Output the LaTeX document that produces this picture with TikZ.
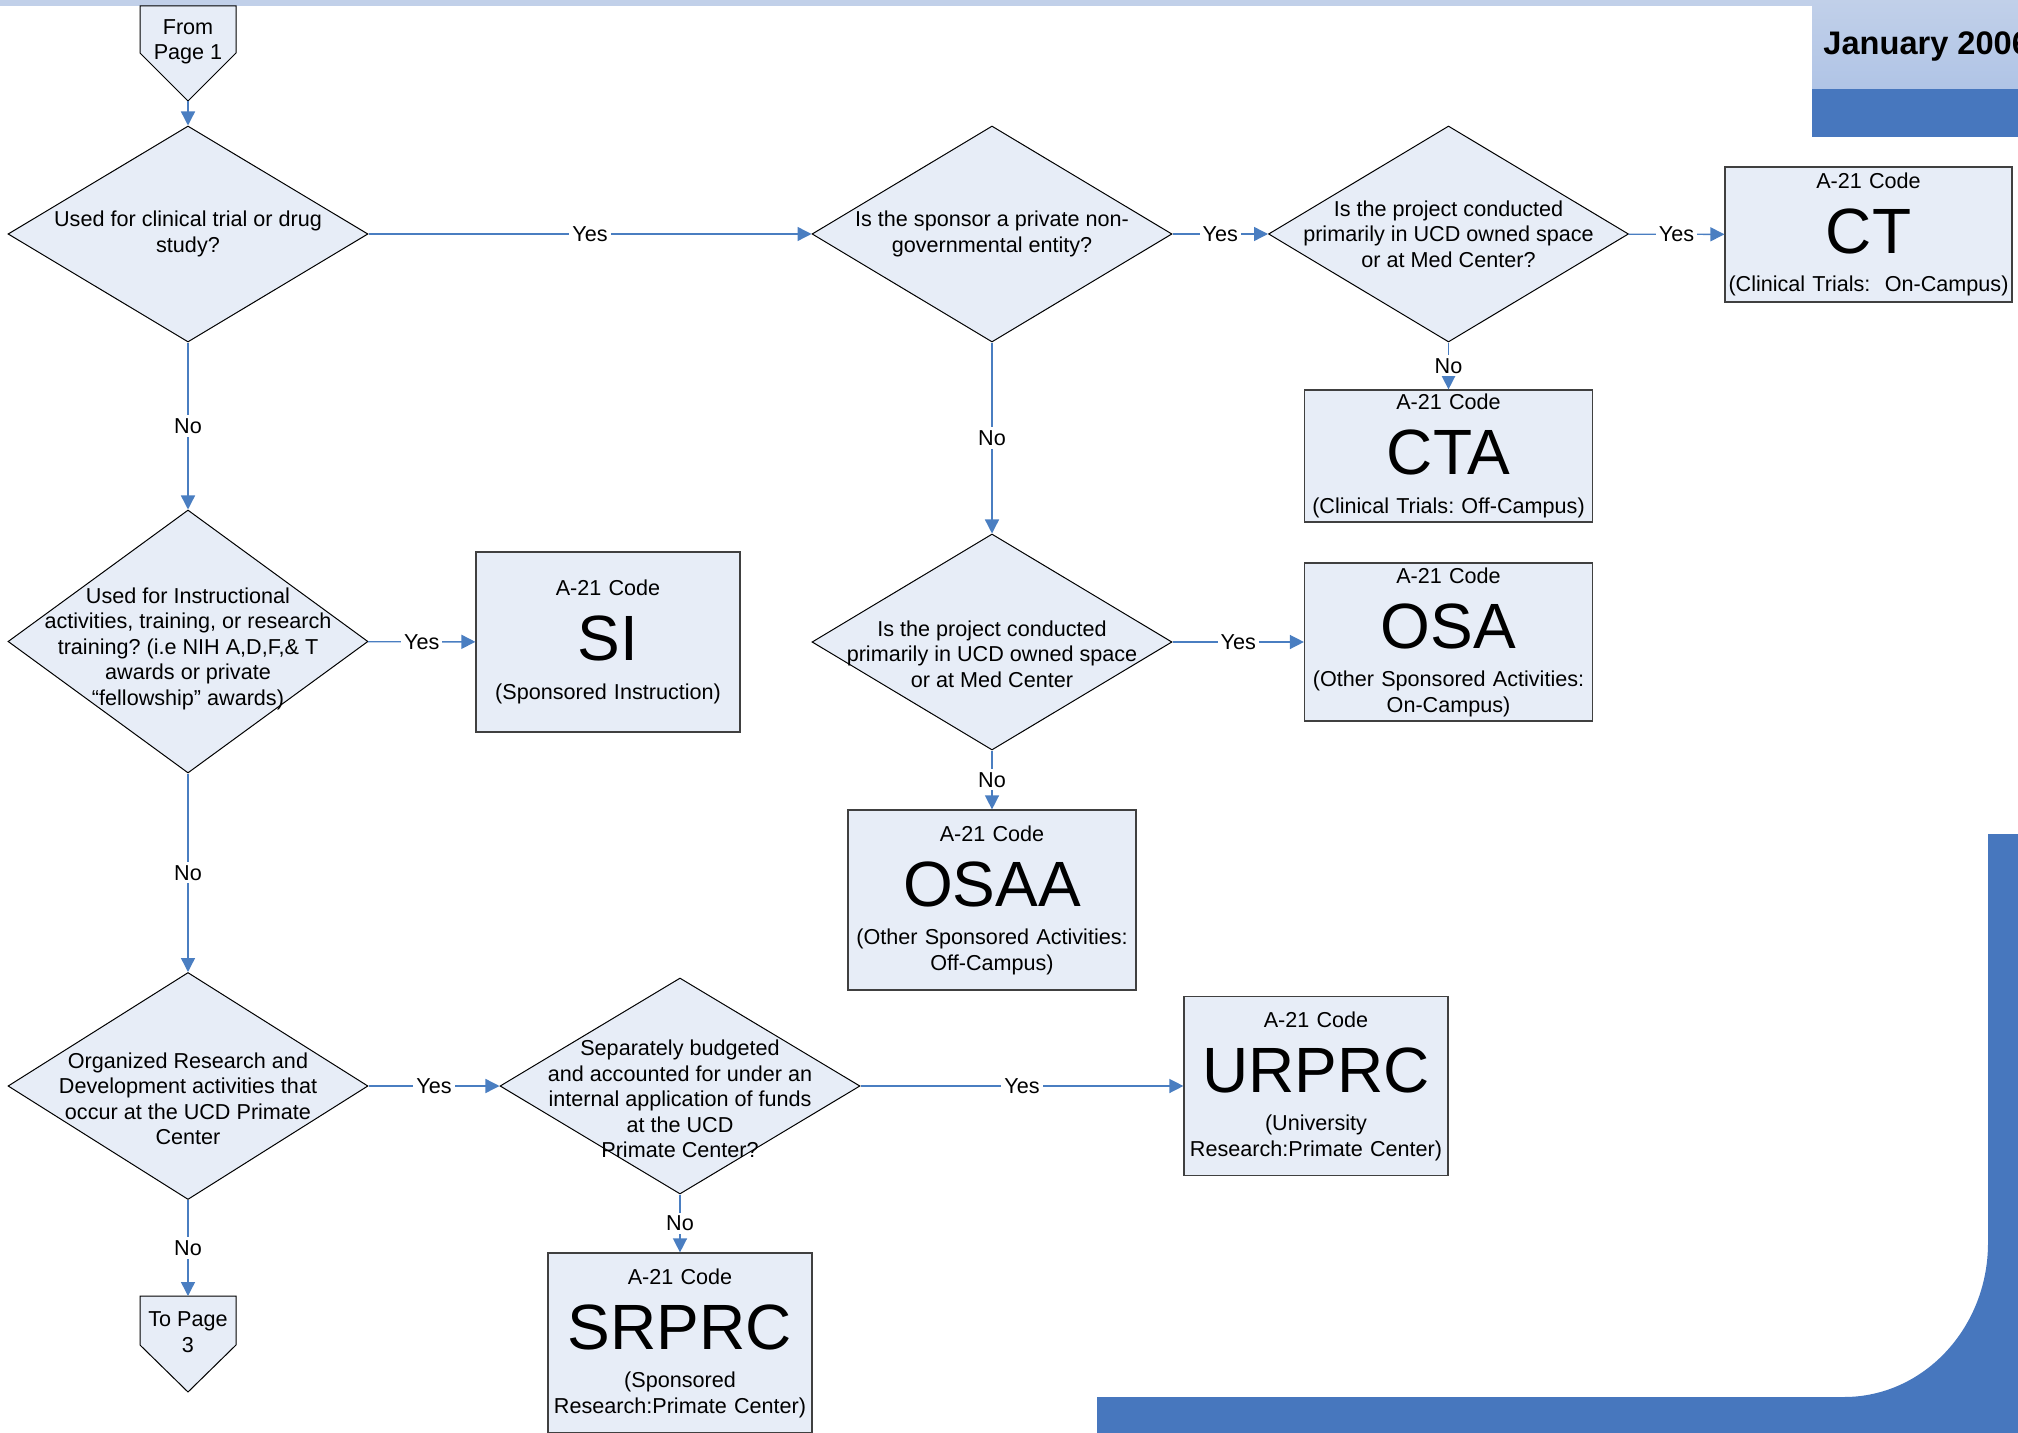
\documentclass[tikz,border=0pt]{standalone}
\usepackage{fontspec}
\setmainfont{Liberation Sans}
\usetikzlibrary{shapes.geometric}
\usetikzlibrary{arrows.meta}
\definecolor{shapefill}{RGB}{231,237,247}
\definecolor{flowblue}{RGB}{74,126,193}
\definecolor{bandlight}{RGB}{193,208,233}
\definecolor{bandmid}{RGB}{176,196,230}
\definecolor{banddark}{RGB}{71,119,190}
\definecolor{boxline}{RGB}{64,64,64}
\frenchspacing

\newcommand{\codelines}[2]{\parindent=0pt A-21 Code\par
  {\fontsize{32}{32.5}\selectfont #1\par}\vskip6.5pt #2}

\begin{document}
\begin{tikzpicture}[x=0.5pt,y=-0.5pt,
    font=\fontsize{10.8}{12.75}\selectfont,
    decision/.style={diamond,draw,fill=shapefill,line width=0.5pt,inner sep=0pt,
      minimum width=180pt,minimum height=108pt},
    qtext/.style={align=center,inner sep=0pt},
    codebox/.style={rectangle,draw=boxline,fill=shapefill,line width=0.6pt,
      inner sep=0pt,align=center},
    offpage/.style={draw,fill=shapefill,line width=0.5pt},
    flow/.style={flowblue,line width=0.7pt,-{Triangle[length=7pt,width=7pt]}},
    answer/.style={fill=white,text=black,inner sep=1.5pt}]
  \useasboundingbox (0,0) rectangle (2018,1433);
  \clip (0,0) rectangle (2018,1433);

  % page decoration
  \fill[bandlight] (0,0) rectangle (2018,6);
  \shade[top color=bandlight,bottom color=bandmid] (1812,0) rectangle (2018,89);
  \fill[banddark] (1812,89) rectangle (2018,137);
  \node[anchor=base west,inner sep=0pt,font=\fontsize{16.3}{19}\selectfont\bfseries]
    (date) at (1823,55) {January 2006};
  \fill[banddark] (1097,1397) -- (1844,1397)
    .. controls (1923.5,1397) and (1988,1328) .. (1988,1243)
    -- (1988,834) -- (2018,834) -- (2018,1433) -- (1097,1433) -- cycle;

  % off-page connectors
  \draw[offpage] (140,6) -- (236,6) -- (236,53) -- (188,101) -- (140,53) -- cycle;
  \node[qtext] (from) at (188,42) {From\\Page 1};
  \coordinate (fromtip) at (188,101);
  \draw[offpage] (140,1296) -- (236,1296) -- (236,1345) -- (188,1392) -- (140,1345) -- cycle;
  \node[qtext] (topage) at (188,1332) {To Page\\3};
  \coordinate (totop) at (188,1296);

  % questions
  \node[decision,label={[qtext]center:{Used for clinical trial or drug\\study?}}]
    (clin) at (188,234) {};
  \node[decision,label={[qtext]center:{Is the sponsor a private non-\\governmental entity?}}]
    (sponsor) at (992,234) {};
  \node[decision,label={[qtext]center:{Is the project conducted\\primarily in UCD owned space\\or at Med Center?}}]
    (ucdct) at (1448.5,234) {};
  \node[decision,minimum height=131.5pt,
    label={[qtext,yshift=-3.5pt]center:{Used for Instructional\\activities, training, or research\\training? (i.e NIH A,D,F,\& T\\awards or private\\“fellowship” awards)}}]
    (instr) at (188,641.5) {};
  \node[decision,label={[qtext,yshift=-6pt]center:{Is the project conducted\\primarily in UCD owned space\\or at Med Center}}]
    (ucdosa) at (992,642) {};
  \node[decision,minimum height=113.5pt,
    label={[qtext,yshift=-6.5pt]center:{Organized Research and\\Development activities that\\occur at the UCD Primate\\Center}}]
    (prim) at (188,1086) {};
  \node[decision,label={[qtext,yshift=-6.5pt]center:{Separately budgeted\\and accounted for under an\\internal application of funds\\at the UCD\\Primate Center?}}]
    (budget) at (680,1086) {};

  % codes
  \node[codebox,text width=143.5pt,minimum height=67.5pt] (ct) at (1868.5,234.5)
    {\codelines{CT}{(Clinical Trials:\ \ On-Campus)}};
  \node[codebox,text width=144pt,minimum height=66pt] (cta) at (1448.5,456)
    {\codelines{CTA}{(Clinical Trials: Off-Campus)}};
  \node[codebox,text width=132pt,minimum height=90pt] (si) at (608,642)
    {\codelines{SI}{(Sponsored Instruction)}};
  \node[codebox,text width=144pt,minimum height=79pt] (osa) at (1448.5,642)
    {\codelines{OSA}{(Other Sponsored Activities:\\On-Campus)}};
  \node[codebox,text width=144pt,minimum height=90pt] (osaa) at (992,900)
    {\codelines{OSAA}{(Other Sponsored Activities:\\Off-Campus)}};
  \node[codebox,text width=132pt,minimum height=89.5pt] (urprc) at (1316,1086)
    {\codelines{URPRC}{(University\\Research:Primate Center)}};
  \node[codebox,text width=132pt,minimum height=90pt] (srprc) at (680,1343)
    {\codelines{SRPRC}{(Sponsored\\Research:Primate Center)}};

  \path[flow]
    (fromtip) edge (clin)
    (clin) edge node[answer] {Yes} (sponsor)
    (sponsor) edge node[answer] {Yes} (ucdct)
    (ucdct) edge node[answer] {Yes} (ct)
    (ucdct) edge node[answer] {No} (cta)
    (clin) edge node[answer] {No} (instr)
    (sponsor) edge node[answer] {No} (ucdosa)
    (instr) edge node[answer] {Yes} (si)
    (ucdosa) edge node[answer] {Yes} (osa)
    (ucdosa) edge node[answer] {No} (osaa)
    (instr) edge node[answer] {No} (prim)
    (prim) edge node[answer] {Yes} (budget)
    (budget) edge node[answer] {Yes} (urprc)
    (budget) edge node[answer] {No} (srprc)
    (prim) edge node[answer] {No} (totop);
\end{tikzpicture}
\end{document}
